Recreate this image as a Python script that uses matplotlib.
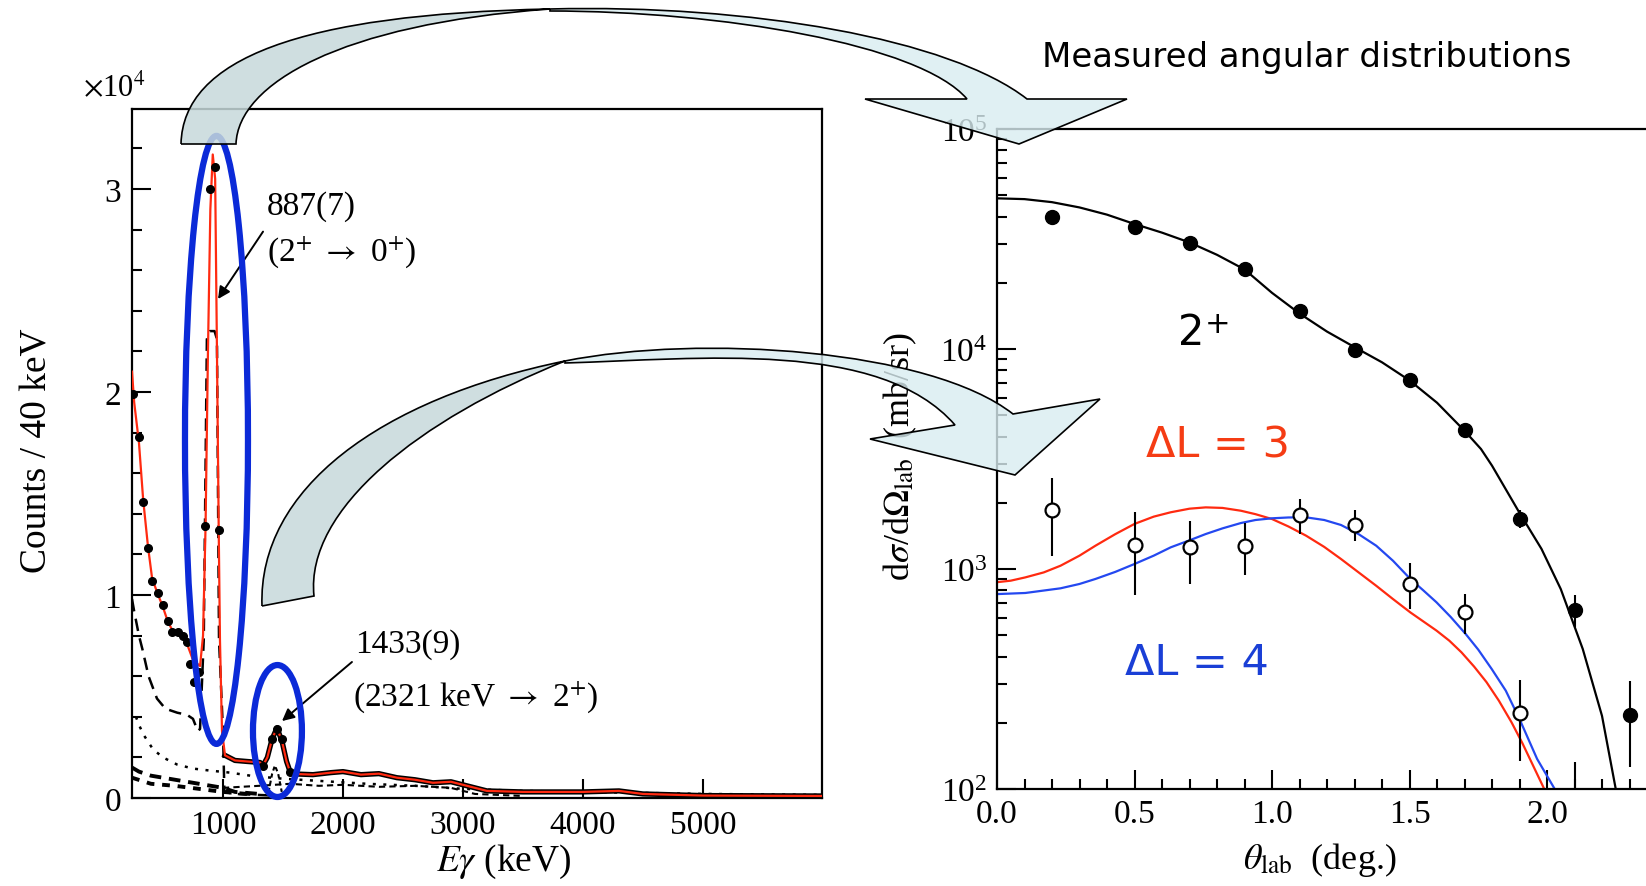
import numpy as np
import matplotlib
matplotlib.use('Agg')
import matplotlib.pyplot as plt
from matplotlib.patches import Ellipse, PathPatch
from matplotlib.path import Path
from matplotlib.ticker import MultipleLocator, FixedLocator, LogLocator, NullFormatter, FormatStrFormatter

plt.rcParams['font.family'] = ['Liberation Serif', 'DejaVu Serif']
plt.rcParams['mathtext.fontset'] = 'stix'

# ---------------- left panel: gamma spectrum (counts in units of 1e4) ----------------
spec_E = [242, 260, 300, 335, 375, 410, 460, 500, 540, 575, 625, 667, 700, 750, 809, 834, 855,
          875, 895, 915, 935, 950, 965, 975, 992, 1017, 1100, 1200, 1309, 1334, 1370, 1409,
          1450, 1492, 1530, 1559, 1620, 1750, 1900, 2000, 2150, 2300, 2450, 2600, 2750,
          2900, 3000, 3200, 3500, 4000, 4300, 4500, 5000, 6000]
spec_C = [2.10, 1.95, 1.75, 1.47, 1.24, 1.08, 1.00, 0.94, 0.87, 0.83, 0.82, 0.80, 0.76, 0.68,
          0.65, 0.80, 1.34, 2.20, 2.90, 3.17, 3.05, 2.20, 1.30, 0.78, 0.33, 0.21, 0.185, 0.18,
          0.175, 0.16, 0.20, 0.29, 0.345, 0.28, 0.18, 0.13, 0.118, 0.115, 0.125, 0.13, 0.115,
          0.12, 0.10, 0.09, 0.075, 0.08, 0.065, 0.035, 0.03, 0.03, 0.035, 0.02, 0.012, 0.01]

dots_E = [250, 300, 334, 375, 409, 459, 500, 542, 575, 625, 665, 700, 725, 760, 800, 850, 892,
          934, 967, 1334, 1409, 1450, 1492, 1559]
dots_C = [1.99, 1.78, 1.46, 1.23, 1.07, 1.01, 0.95, 0.87, 0.82, 0.82, 0.80, 0.77, 0.66, 0.57,
          0.62, 1.34, 3.00, 3.11, 1.32, 0.158, 0.29, 0.34, 0.29, 0.13]

resp887_E = [242, 260, 300, 330, 380, 450, 520, 620, 700, 750, 790, 809, 840, 866, 890, 930,
             950, 967, 1000, 1012, 1100, 1500]
resp887_C = [0.98, 0.92, 0.80, 0.73, 0.60, 0.49, 0.44, 0.42, 0.41, 0.39, 0.33, 0.34, 0.78,
             2.26, 2.30, 2.30, 2.26, 0.78, 0.33, 0.03, 0.02, 0.01]

dotted_E = [275, 300, 340, 417, 500, 617, 750, 892, 1059, 1250, 1500, 1809, 2200, 2642, 3000,
            3500, 4000, 5000, 6000]
dotted_C = [0.40, 0.36, 0.31, 0.24, 0.20, 0.165, 0.145, 0.135, 0.125, 0.108, 0.095, 0.084,
            0.07, 0.059, 0.045, 0.035, 0.03, 0.02, 0.015]

bgA_E = [242, 300, 400, 500, 600, 700, 800, 900, 1000, 1100, 1300]
bgA_C = [0.15, 0.13, 0.11, 0.10, 0.09, 0.08, 0.07, 0.06, 0.05, 0.03, 0.02]
bgB_E = [242, 400, 600, 800, 1000, 1200]
bgB_C = [0.10, 0.07, 0.06, 0.045, 0.03, 0.02]
bgC_E = [1000, 1300, 1560, 1800, 2000, 2300, 2600, 2900, 3100, 3500]
bgC_C = [0.05, 0.06, 0.07, 0.06, 0.065, 0.055, 0.06, 0.05, 0.02, 0.01]
resp1433_E = [1380, 1410, 1433, 1460, 1490]
resp1433_C = [0.03, 0.12, 0.16, 0.12, 0.03]

left_xticks = [1000, 2000, 3000, 4000, 5000]
left_yticks = [0, 1, 2, 3]

# ---------------- right panel: angular distributions ----------------
theta_2p = [0.2, 0.5, 0.7, 0.9, 1.1, 1.3, 1.5, 1.7, 1.9, 2.1, 2.3]
xs_2p = [40000, 36000, 30300, 23000, 14900, 9900, 7230, 4270, 1690, 653, 218]
err_2p = [2800, 1800, 1400, 1100, 900, 600, 450, 350, 160, 108, 92]

theta_dl = [0.2, 0.5, 0.7, 0.9, 1.1, 1.3, 1.5, 1.7, 1.9, 2.1]
xs_dl = [1860, 1290, 1255, 1276, 1760, 1585, 855, 635, 221, 60]
err_dl_lo = [714, 526, 402, 336, 320, 240, 197, 128, 87, 40]
err_dl_hi = [730, 530, 400, 344, 320, 270, 207, 134, 91, 72]

th_c2 = [0, 0.1, 0.2, 0.3, 0.4, 0.5, 0.6, 0.7, 0.8, 0.9, 1.0, 1.1, 1.2, 1.3, 1.4, 1.5, 1.6,
         1.7, 1.76, 1.8, 1.9, 1.98, 2.05, 2.13, 2.2, 2.25, 2.3]
c2 = [48400, 48000, 46500, 44000, 40800, 37000, 33800, 30500, 26800, 23000, 18000, 14500,
      12000, 10200, 8700, 7200, 5700, 4250, 3510, 2950, 1800, 1234, 811, 433, 215, 100, 45]

th_l3 = [0, 0.05, 0.103, 0.17, 0.231, 0.3, 0.358, 0.43, 0.5, 0.57, 0.632, 0.7, 0.759, 0.82,
         0.887, 0.94, 1.0, 1.06, 1.124, 1.19, 1.251, 1.315, 1.379, 1.44, 1.503, 1.55, 1.598,
         1.645, 1.689, 1.735, 1.78, 1.825, 1.871, 1.91, 1.944, 1.99, 2.02]
c_l3 = [871, 885, 916, 965, 1035, 1150, 1276, 1440, 1603, 1730, 1811, 1880, 1906, 1895,
        1840, 1775, 1687, 1560, 1417, 1260, 1110, 965, 839, 730, 635, 578, 525, 472, 418,
        360, 306, 252, 201, 162, 132, 100, 75]

th_l4 = [0, 0.103, 0.231, 0.3, 0.358, 0.43, 0.5, 0.57, 0.632, 0.7, 0.759, 0.82, 0.887, 0.94,
         1.0, 1.06, 1.124, 1.19, 1.251, 1.315, 1.379, 1.44, 1.503, 1.55, 1.598, 1.65, 1.704,
         1.75, 1.799, 1.85, 1.9, 1.964, 2.028, 2.055]
c_l4 = [769, 778, 817, 855, 901, 970, 1054, 1150, 1255, 1350, 1442, 1530, 1618, 1670, 1700,
        1715, 1717, 1670, 1585, 1440, 1276, 1090, 901, 800, 706, 605, 507, 430, 351, 280,
        208, 137, 100, 80]

right_xticks = [0.0, 0.5, 1.0, 1.5, 2.0]

# ---------------- figure ----------------
W, H = 1646, 887
fig = plt.figure(figsize=(W / 100, H / 100), dpi=100)


def px_box(x0, y0, x1, y1):
    return [x0 / W, 1 - y1 / H, (x1 - x0) / W, (y1 - y0) / H]


RED = '#ff2a10'
axL = fig.add_axes(px_box(132, 110, 822, 799))
axL.set_xlim(242, 5992)
axL.set_ylim(0, 3.394)

axL.plot(resp887_E, resp887_C, color='black', lw=1.8, dashes=(5, 3), zorder=2)
axL.plot(dotted_E, dotted_C, color='black', lw=1.8, dashes=(1.2, 3.0), zorder=2)
axL.plot(bgA_E, bgA_C, color='black', lw=2.8, dashes=(3, 2), zorder=2)
axL.plot(bgB_E, bgB_C, color='black', lw=2.8, dashes=(2, 2), zorder=2)
axL.plot(bgC_E, bgC_C, color='black', lw=1.5, dashes=(3, 2), zorder=2)
axL.plot(resp1433_E, resp1433_C, color='black', lw=1.5, dashes=(2, 1.5), zorder=2)
i0 = spec_E.index(1017)
axL.plot(spec_E[i0:], spec_C[i0:], color='black', lw=3.8, zorder=3)
axL.plot(spec_E, spec_C, color=RED, lw=1.6, zorder=4)
axL.plot(dots_E, dots_C, 'o', color='black', ms=5.5, zorder=5)

axL.xaxis.set_major_locator(FixedLocator(left_xticks))
axL.yaxis.set_major_locator(FixedLocator(left_yticks))
axL.yaxis.set_minor_locator(MultipleLocator(0.2))
axL.tick_params(which='both', direction='in', width=1.5, top=False, right=False)
axL.tick_params(which='major', length=14, labelsize=24, pad=8)
axL.tick_params(which='minor', length=7)
for s in axL.spines.values():
    s.set_linewidth(1.6)

# blue ellipses around the peaks
axL.add_patch(Ellipse((946, 1.764), 525, 2.995, fill=False, ec='#0b2ad8', lw=4.5,
                      zorder=6, clip_on=False))
axL.add_patch(Ellipse((1454, 0.33), 408, 0.65, fill=False, ec='#0b2ad8', lw=4.5,
                      zorder=6, clip_on=False))

arrow_kw = dict(arrowstyle='-|>', color='black', lw=1.4, mutation_scale=18, shrinkA=0, shrinkB=0)
axL.text(1367, 2.916, '887(7)', fontsize=24, va='center', ha='left')
axL.text(1367, 2.695, r'(2$^{+}$ $\rightarrow$ 0$^{+}$)', fontsize=24, va='center', ha='left')
axL.annotate('', xy=(959, 2.458), xytext=(1334, 2.79), arrowprops=arrow_kw)
axL.text(2100, 0.759, '1433(9)', fontsize=24, va='center', ha='left')
axL.text(2083, 0.502, r'(2321 keV $\rightarrow$ 2$^{+}$)', fontsize=24, va='center', ha='left')
axL.annotate('', xy=(1492, 0.379), xytext=(2075, 0.67), arrowprops=arrow_kw)

# ---------------- right axes ----------------
axR = fig.add_axes(px_box(997, 130, 1646, 790))
axR.set_yscale('log')
axR.set_xlim(0, 2.36)
axR.set_ylim(100, 1e5)
axR.spines['right'].set_visible(False)
for s in axR.spines.values():
    s.set_linewidth(1.6)

BLUE = '#2448f0'
axR.plot(th_c2, c2, color='black', lw=1.6, zorder=2)
axR.plot(th_l3, c_l3, color=RED, lw=1.6, zorder=2)
axR.plot(th_l4, c_l4, color=BLUE, lw=1.6, zorder=2)
axR.errorbar(theta_2p, xs_2p, yerr=err_2p, fmt='o', color='black', ms=10, elinewidth=1.5,
             capsize=0, zorder=4)
axR.errorbar(theta_dl, xs_dl, yerr=[err_dl_lo, err_dl_hi], fmt='o', color='black', mfc='white',
             mec='black', mew=1.6, ms=10, elinewidth=1.5, capsize=0, zorder=4)

axR.xaxis.set_major_locator(FixedLocator(right_xticks))
axR.xaxis.set_major_formatter(FormatStrFormatter('%.1f'))
axR.xaxis.set_minor_locator(MultipleLocator(0.1))
axR.yaxis.set_major_locator(LogLocator(base=10, numticks=10))
axR.yaxis.set_minor_locator(LogLocator(base=10, subs=np.arange(2, 10), numticks=20))
axR.yaxis.set_minor_formatter(NullFormatter())
axR.tick_params(which='both', direction='in', width=1.5, top=False, right=False)
axR.tick_params(which='major', length=14, labelsize=24, pad=7)
axR.tick_params(which='minor', length=7)

# ---------------- overlay (labels, block arrows) ----------------
ov = fig.add_axes([0, 0, 1, 1], zorder=20)
ov.set_xlim(0, W)
ov.set_ylim(H, 0)
ov.axis('off')
ov.patch.set_alpha(0)

ov.text(83, 88, r'$\times$10$^{4}$', fontsize=22, ha='left', va='center')
ov.text(37, 451, 'Counts / 40 keV', fontsize=27, rotation=90, ha='center', va='center')
ov.text(504, 862, r'$E\gamma$ (keV)', fontsize=27, ha='center', va='center')
ov.text(900, 457, r'd$\sigma$/d$\Omega_{\rm lab}$  (mb/sr)', fontsize=26, rotation=90,
        ha='center', va='center')
ov.text(1320, 860, r'$\theta_{\rm lab}$  (deg.)', fontsize=26, ha='center', va='center')

ov.text(1307, 57, 'Measured angular distributions', fontsize=24.5, family='DejaVu Sans',
        ha='center', va='center')
ov.text(1191, 333, '2', fontsize=30, family='DejaVu Sans', ha='center', va='center')
ov.text(1218, 325, '+', fontsize=22, family='DejaVu Sans', ha='center', va='center')
ov.text(1218, 446, 'ΔL = 3', fontsize=31, family='DejaVu Sans', color='#f53c14',
        ha='center', va='center')
ov.text(1197, 663, 'ΔL = 4', fontsize=31, family='DejaVu Sans', color='#1a3fd6',
        ha='center', va='center')

GRAY = (0.78, 0.85, 0.86, 0.85)
LIGHT = (0.85, 0.93, 0.945, 0.8)
C4, L, M = Path.CURVE4, Path.LINETO, Path.MOVETO


def patch(verts, codes, fc):
    ov.add_patch(PathPatch(Path(verts, codes), fc=fc, ec='black', lw=1.2, zorder=5))


# arrow 1 : tail part
patch([(181, 145), (183, 60), (300, 15), (550, 10), (340, 25), (238, 85), (236, 145), (181, 145)],
      [M, C4, C4, C4, C4, C4, C4, L], GRAY)
# arrow 1 : head part
patch([(550, 10), (750, 5), (950, 40), (1027, 100), (1127, 100), (1019, 145), (865, 100),
       (967, 100), (920, 45), (720, 12), (550, 12), (550, 10)],
      [M, C4, C4, C4, L, L, L, L, C4, C4, C4, L], LIGHT)
# arrow 2 : tail part
patch([(262, 607), (258, 490), (380, 400), (565, 362), (420, 420), (305, 510), (314, 597),
       (262, 607)],
      [M, C4, C4, C4, C4, C4, C4, L], GRAY)
# arrow 2 : head part
patch([(565, 362), (700, 335), (930, 350), (1013, 415), (1100, 400), (1015, 476), (870, 440),
       (955, 426), (880, 340), (700, 360), (565, 364), (565, 362)],
      [M, C4, C4, C4, L, L, L, L, C4, C4, C4, L], LIGHT)

fig.savefig('out.png', dpi=100, facecolor='white')
